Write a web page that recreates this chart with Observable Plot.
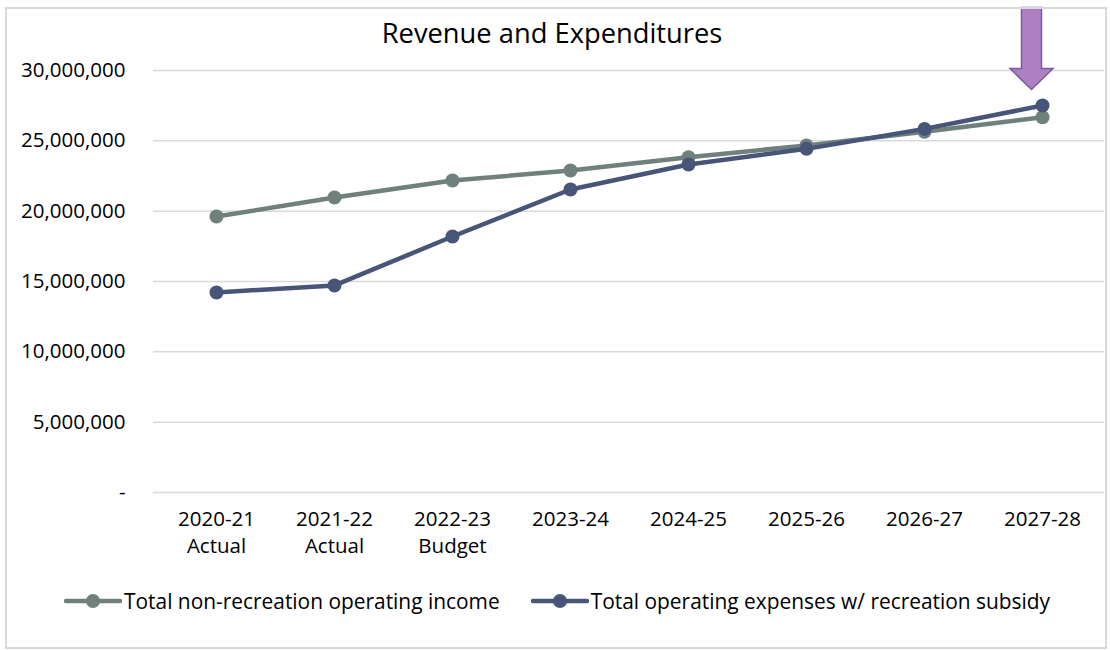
<!DOCTYPE html>
<html>
<head>
<meta charset="utf-8">
<script src="https://cdn.jsdelivr.net/npm/d3@7"></script>
<script src="https://cdn.jsdelivr.net/npm/@observablehq/plot@0.6"></script>
<style>
  body { margin: 0; background: #fff; font-family: "Open Sans", Lato, sans-serif; }
  #frame { position: absolute; left: 5px; top: 7px; width: 1102px; height: 642px; border: 2px solid #d9d9d9; box-sizing: border-box; pointer-events: none; }
  #chart { position: absolute; left: 0; top: 0; }
  #title { position: absolute; left: 0; width: 1104px; top: 15px; text-align: center; font-size: 27.3px; color: #000; line-height: 36px; }
  #legend { position: absolute; top: 587px; left: 64px; display: flex; align-items: center; font-size: 20.9px; color: #000; white-space: nowrap; }
  .item { display: flex; align-items: center; }
  .item svg { display: block; }
</style>
</head>
<body>
<div id="chart"></div>
<div id="title">Revenue and Expenditures</div>
<div id="legend"></div>
<div id="frame"></div>
<script>
const categories = ["2020-21\nActual", "2021-22\nActual", "2022-23\nBudget", "2023-24", "2024-25", "2025-26", "2026-27", "2027-28"];
const seriesNames = ["Total non-recreation operating income", "Total operating expenses w/ recreation subsidy"];
const income   = [19.62e6, 20.97e6, 22.18e6, 22.89e6, 23.84e6, 24.67e6, 25.64e6, 26.68e6];
const expenses = [14.22e6, 14.72e6, 18.20e6, 21.54e6, 23.32e6, 24.43e6, 25.85e6, 27.51e6];
const yTicks = [0, 5e6, 10e6, 15e6, 20e6, 25e6, 30e6];
const yTickLabels = ["-", "5,000,000", "10,000,000", "15,000,000", "20,000,000", "25,000,000", "30,000,000"];
const colors = ["#6f807d", "#475579"];
const arrowCategory = "2027-28";
const arrowTipValue = 28.65e6;

const rows = [];
categories.forEach((c, i) => {
  rows.push({cat: c, value: income[i], series: seriesNames[0]});
  rows.push({cat: c, value: expenses[i], series: seriesNames[1]});
});
const tickRows = yTicks.map((v, i) => ({v, label: yTickLabels[i]}));

// block arrow symbol: tip at (0,0), pointing down, body extending upward
const blockArrow = {
  draw(ctx) {
    const L = 82, h = 21, sw = 10, hw = 21.5;
    ctx.moveTo(-sw, -L);
    ctx.lineTo(sw, -L);
    ctx.lineTo(sw, -h);
    ctx.lineTo(hw, -h);
    ctx.lineTo(0, 0);
    ctx.lineTo(-hw, -h);
    ctx.lineTo(-sw, -h);
    ctx.closePath();
  }
};

const font = "'Open Sans', Lato, sans-serif";
const plot = Plot.plot({
  width: 1110,
  height: 575,
  marginLeft: 153,
  marginRight: 6,
  marginTop: 70,
  marginBottom: 83,
  style: {background: "none", fontFamily: font},
  x: {type: "point", domain: categories, padding: 0.5, axis: null},
  y: {domain: [0, 30e6], axis: null},
  color: {domain: seriesNames, range: colors},
  marks: [
    Plot.ruleY(yTicks, {stroke: "#d9d9d9", strokeWidth: 1.5}),
    Plot.text(tickRows, {y: "v", text: "label", frameAnchor: "left", textAnchor: "end", dx: -28, fontSize: 20.5, fill: "#000"}),
    Plot.text(categories, {x: d => d, text: d => d, frameAnchor: "bottom", lineAnchor: "top", dy: 14, lineHeight: 1.32, fontSize: 20.5, fill: "#000"}),
    Plot.line(rows, {x: "cat", y: "value", z: "series", stroke: "series", strokeWidth: 4.5, strokeLinejoin: "round"}),
    Plot.dot(rows, {x: "cat", y: "value", fill: "series", r: 7, stroke: "none"}),
    Plot.dot([{cat: arrowCategory, value: arrowTipValue}], {x: "cat", y: "value", symbol: blockArrow, r: 5, dx: -11, fill: "#ad80c4", stroke: "#7c5a99", strokeWidth: 1.5})
  ]
});
document.getElementById("chart").appendChild(plot);

const legend = document.getElementById("legend");
seriesNames.forEach((name, i) => {
  const item = document.createElement("div");
  item.className = "item";
  if (i > 0) item.style.marginLeft = "31px";
  item.innerHTML = `<svg width="58" height="18"><line x1="2" y1="9" x2="56" y2="9" stroke="${colors[i]}" stroke-width="4.5" stroke-linecap="round"/><circle cx="29" cy="9" r="7" fill="${colors[i]}"/></svg><span style="margin-left:2px">${name}</span>`;
  legend.appendChild(item);
});
</script>
</body>
</html>
